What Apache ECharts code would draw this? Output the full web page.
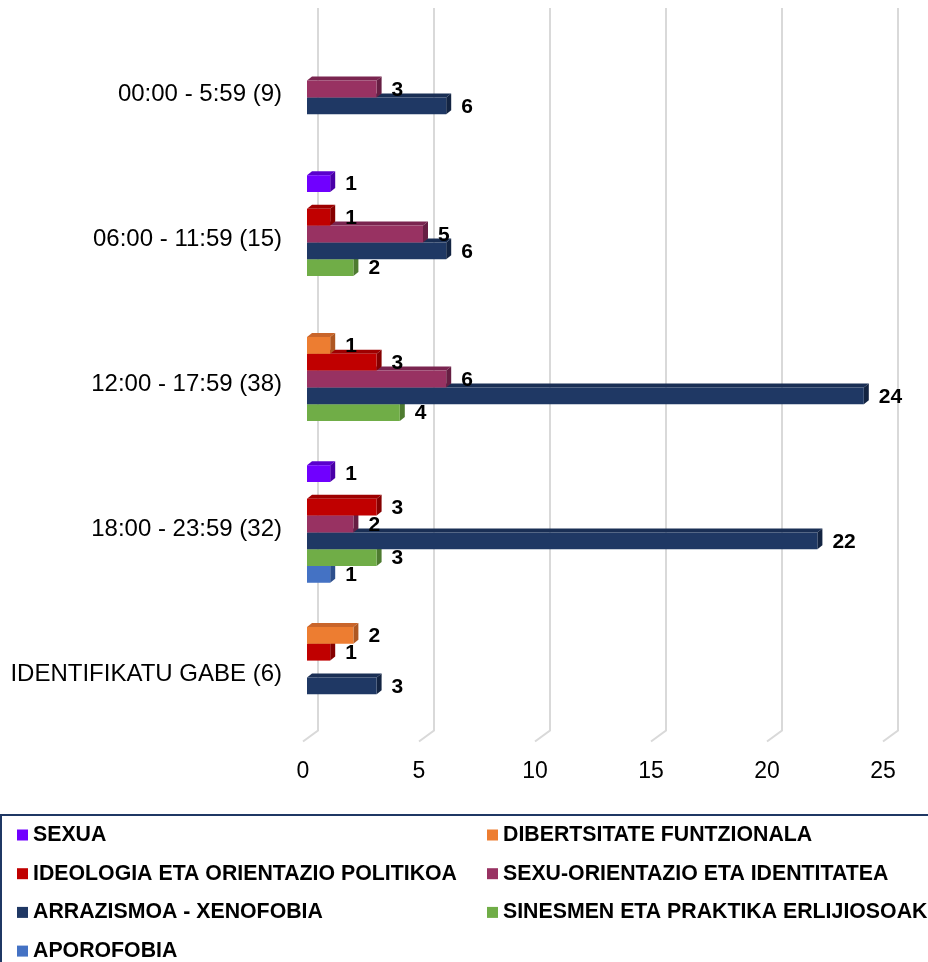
<!DOCTYPE html>
<html><head><meta charset="utf-8">
<script src="https://cdn.jsdelivr.net/npm/echarts@6/dist/echarts.min.js"></script>
<style>html,body{margin:0;padding:0;background:#fff}#c{width:928px;height:962px}</style>
</head><body><div id="c"></div>
<script>
// ---- data ----
const categories = ['00:00 - 5:59 (9)','06:00 - 11:59 (15)','12:00 - 17:59 (38)','18:00 - 23:59 (32)','IDENTIFIKATU GABE (6)'];
const seriesNames = ['SEXUA','DIBERTSITATE FUNTZIONALA','IDEOLOGIA ETA ORIENTAZIO POLITIKOA','SEXU-ORIENTAZIO ETA IDENTITATEA','ARRAZISMOA - XENOFOBIA','SINESMEN ETA PRAKTIKA ERLIJIOSOAK','APOROFOBIA'];
const sexua          = [0, 1, 0, 1, 0];
const dibertsitate   = [0, 0, 1, 0, 2];
const ideologia      = [0, 1, 3, 3, 1];
const sexuOrientazio = [3, 5, 6, 2, 0];
const arrazismoa     = [6, 6, 24, 22, 3];
const sinesmen       = [0, 2, 4, 3, 0];
const aporofobia     = [0, 0, 0, 1, 0];
const xTicks = [0, 5, 10, 15, 20, 25];

const seriesValues = [sexua, dibertsitate, ideologia, sexuOrientazio, arrazismoa, sinesmen, aporofobia];

// ---- styles ----
const palette = [
  {front:'#7000FF', top:'#5A00CC', side:'#4A00A8'},
  {front:'#ED7D31', top:'#C9652A', side:'#AE5722'},
  {front:'#C00000', top:'#9E0000', side:'#850000'},
  {front:'#983262', top:'#7A2550', side:'#661E43'},
  {front:'#1F3864', top:'#1A2F55', side:'#132442'},
  {front:'#70AD47', top:'#5E933A', side:'#4E7B30'},
  {front:'#4472C4', top:'#3860A8', side:'#2D4F8C'}
];
const FONT = '"Liberation Sans", Arial, sans-serif';

function makeBarRender(sIdx, col) {
  return function (params, api) {
    const v = api.value(0);
    if (!v) return null;
    const c = api.value(1);
    const p0 = api.coord([0, c]);
    const p1 = api.coord([v, c]);
    const band = api.size([0, 1])[1];
    const h = band * 0.1158;
    const yc = p0[1] + (sIdx - 3) * h;
    const yt = yc - h / 2, yb = yc + h / 2;
    const x0 = p0[0], x1 = p1[0];
    const dx = 5, dy = 4;
    const z = 20 - sIdx;
    return {type: 'group', children: [
      {type: 'polygon', shape: {points: [[x0, yt], [x0 + dx, yt - dy], [x1 + dx, yt - dy], [x1, yt]]}, style: {fill: col.top}, z2: z},
      {type: 'polygon', shape: {points: [[x1, yt], [x1 + dx, yt - dy], [x1 + dx, yb - dy], [x1, yb]]}, style: {fill: col.side}, z2: z},
      {type: 'rect', shape: {x: x0, y: yt, width: x1 - x0, height: h}, style: {fill: col.front}, z2: z},
      {type: 'text', style: {text: String(v), x: x1 + 15, y: yc + 1, align: 'left', verticalAlign: 'middle', font: 'bold 21px ' + FONT, fill: '#000'}, z2: 100}
    ]};
  };
}

const series = [{
  name: 'grid',
  type: 'custom',
  silent: true,
  z: 1,
  encode: {x: 0, y: 1},
  data: xTicks.map(v => [v, 0]),
  renderItem: function (params, api) {
    const v = api.value(0);
    const cs = params.coordSys;
    const x = api.coord([v, 0])[0];
    const yBot = cs.y + cs.height;
    return {type: 'polyline', shape: {points: [[x + 11, cs.y - 8.5], [x + 11, yBot - 11], [x - 4, yBot]]},
      style: {stroke: '#D9D9D9', lineWidth: 2, fill: null}};
  }
}];
seriesNames.forEach((name, i) => {
  series.push({
    name: name,
    type: 'custom',
    z: 2,
    encode: {x: 0, y: 1},
    itemStyle: {color: palette[i].front},
    data: seriesValues[i].map((v, c) => [v, c]),
    renderItem: makeBarRender(i, palette[i])
  });
});

const legendText = {fontFamily: FONT, fontWeight: 'bold', fontSize: 21.3, color: '#000', lineHeight: 24};
const legendBase = {orient: 'vertical', top: 823, height: 200, padding: 0, itemWidth: 11, itemHeight: 11,
  itemGap: 14.7, icon: 'rect', textStyle: legendText, selectedMode: false};
const option = {
  backgroundColor: '#fff',
  animation: false,
  grid: {left: 307, right: 41, top: 16.5, height: 725},
  xAxis: {
    type: 'value', min: 0, max: 25, interval: 5,
    axisLine: {show: false}, axisTick: {show: false}, splitLine: {show: false},
    axisLabel: {fontFamily: FONT, fontSize: 23, color: '#000', margin: 19, padding: [0, 8, 0, 0]}
  },
  yAxis: {
    type: 'category', inverse: true, data: categories,
    axisLine: {show: false}, axisTick: {show: false}, splitLine: {show: false},
    axisLabel: {
      margin: 25,
      formatter: v => '{a|' + v + '}',
      rich: {a: {fontFamily: FONT, fontSize: 24, color: '#000', padding: [10, 0, 0, 0]}}
    }
  },
  legend: [
    Object.assign({}, legendBase, {left: 17, data: [seriesNames[0], seriesNames[2], seriesNames[4], seriesNames[6]]}),
    Object.assign({}, legendBase, {left: 487, data: [seriesNames[1], seriesNames[3], seriesNames[5]]})
  ],
  graphic: [{type: 'rect', shape: {x: 1, y: 815, width: 960, height: 200}, style: {fill: null, stroke: '#1F3864', lineWidth: 2}, z: 0}],
  series: series
};
const chart = echarts.init(document.getElementById('c'));
chart.setOption(option);
</script></body></html>
